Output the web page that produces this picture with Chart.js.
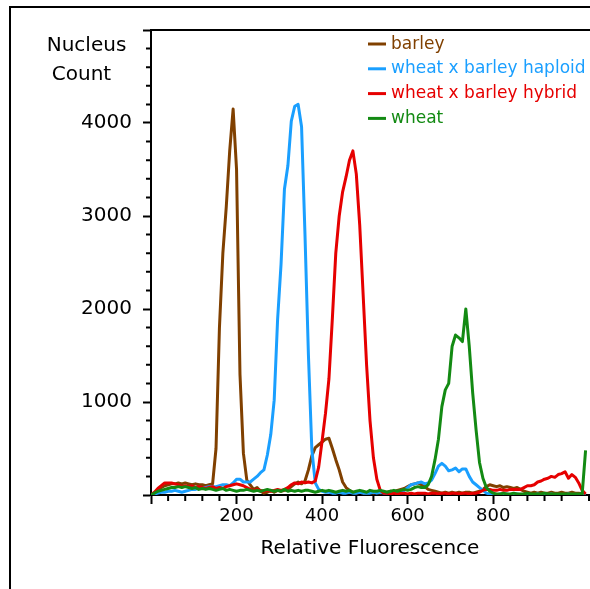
<!DOCTYPE html>
<html>
<head>
<meta charset="utf-8">
<script src="https://cdn.jsdelivr.net/npm/chart.js@4.4.0/dist/chart.umd.min.js"></script>
<style>
  html, body { margin: 0; padding: 0; background: #fff; overflow: hidden; }
  #frame { position: absolute; left: 9px; top: 6px; width: 700px; height: 700px;
           border-left: 2px solid #000; border-top: 2px solid #000; }
  #wrap { position: absolute; left: 0; top: 0; }
</style>
</head>
<body>
<div id="frame"></div>
<div id="wrap"><canvas id="histChart" width="591" height="589"></canvas></div>
<script>
// histogram bins, 8 channels wide
const channels = [];
for (let c = 0; c < 1024; c += 8) channels.push(c);

const seriesNames = ['barley', 'wheat x barley haploid', 'wheat x barley hybrid', 'wheat'];
const seriesColors = ['#804000', '#1a9fff', '#e60000', '#138a13'];

const xTickLabels = [200, 400, 600, 800];
const yTickLabels = [1000, 2000, 3000, 4000];

const barley = [
  0, 20, 50, 80, 100, 110, 120, 120, 130, 120, 130, 120, 110, 120, 110, 110,
  100, 110, 120, 500, 1800, 2600, 3100, 3700, 4150, 3500, 1300, 450, 160, 110, 60, 80,
  40, 20, 30, 50, 30, 50, 40, 50, 60, 90, 120, 140, 120, 150, 270, 420,
  510, 540, 570, 600, 610, 500, 380, 270, 140, 80, 50, 30, 20, 30, 20, 20,
  30, 20, 30, 20, 30, 30, 40, 30, 50, 60, 70, 90, 110, 120, 130, 110,
  90, 60, 50, 40, 30, 20, 30, 20, 30, 20, 30, 20, 30, 30, 20, 30,
  40, 60, 90, 110, 100, 90, 100, 80, 90, 80, 70, 80, 60, 40, 30, 20,
  30, 20, 30, 20, 20, 30, 20, 20, 30, 20, 20, 30, 20, 20, 10, 0
];
const haploid = [
  0, 10, 20, 30, 30, 40, 40, 50, 40, 30, 40, 50, 60, 60, 70, 80,
  80, 90, 90, 90, 100, 110, 110, 100, 130, 170, 170, 140, 140, 140, 170, 200,
  240, 270, 430, 650, 1020, 1890, 2480, 3290, 3540, 4020, 4180, 4200, 3960, 2800, 1510, 490,
  130, 60, 40, 30, 30, 20, 20, 30, 20, 20, 30, 20, 20, 30, 20, 20,
  20, 30, 20, 30, 20, 20, 30, 30, 20, 30, 50, 80, 110, 120, 130, 140,
  120, 130, 160, 230, 310, 340, 310, 260, 270, 290, 250, 280, 280, 200, 140, 110,
  80, 50, 20, 10, 10, 0, 10, 0, 10, 0, 0, 10, 0, 0, 10, 0,
  0, 10, 0, 0, 0, 10, 0, 0, 0, 0, 10, 0, 0, 0, 0, 0
];
const hybrid = [
  0, 30, 70, 100, 130, 130, 130, 120, 110, 90, 100, 90, 100, 80, 90, 80,
  70, 80, 90, 70, 80, 70, 90, 100, 110, 120, 110, 100, 80, 60, 50, 60,
  50, 40, 50, 40, 50, 60, 50, 60, 80, 110, 130, 120, 140, 130, 140, 130,
  150, 300, 580, 880, 1250, 1900, 2600, 3000, 3260, 3420, 3600, 3700, 3450, 2900, 2150, 1400,
  800, 400, 170, 50, 20, 20, 10, 20, 10, 20, 20, 10, 20, 10, 20, 20,
  20, 10, 20, 20, 10, 20, 20, 10, 20, 20, 10, 20, 20, 10, 20, 20,
  30, 50, 60, 60, 50, 50, 60, 50, 50, 60, 60, 60, 60, 80, 100, 100,
  110, 140, 150, 170, 180, 200, 190, 220, 230, 250, 180, 220, 190, 130, 50, 10
];
const wheat = [
  0, 20, 40, 50, 60, 70, 80, 80, 90, 80, 90, 80, 70, 80, 60, 70,
  60, 70, 60, 50, 60, 70, 50, 60, 50, 40, 50, 50, 60, 50, 40, 50,
  40, 50, 60, 50, 40, 50, 40, 60, 40, 50, 40, 50, 40, 50, 50, 40,
  30, 40, 50, 40, 50, 40, 30, 40, 50, 40, 50, 30, 40, 50, 40, 30,
  50, 40, 40, 50, 40, 30, 40, 50, 40, 50, 60, 50, 60, 80, 90, 80,
  80, 110, 200, 380, 600, 950, 1130, 1200, 1600, 1720, 1690, 1650, 2000, 1600, 1100, 700,
  350, 180, 80, 40, 20, 10, 10, 20, 10, 10, 20, 10, 10, 10, 20, 10,
  10, 10, 10, 20, 10, 10, 10, 10, 10, 10, 10, 10, 10, 10, 10, 480
];

const allSeries = [barley, haploid, hybrid, wheat];

function toPoints(values) {
    return channels.map((c, i) => ({ x: c, y: values[i] }));
}

// minor ticks, plot box top edge, y title and legend
const extrasPlugin = {
    id: 'extras',
    afterDraw(chart) {
        const ctx = chart.ctx;
        const area = chart.chartArea;
        const xs = chart.scales.x;
        const ys = chart.scales.y;
        ctx.save();
        ctx.strokeStyle = '#000';
        ctx.lineWidth = 2;
        ctx.beginPath();
        ctx.moveTo(area.left - 1, area.top);
        ctx.lineTo(area.right + 2, area.top);
        ctx.stroke();

        ctx.beginPath();
        ys.ticks.forEach(t => {
            if (t.value % 1000 !== 0) {
                const y = ys.getPixelForValue(t.value);
                ctx.moveTo(area.left - 5, y);
                ctx.lineTo(area.left, y);
            }
        });
        xs.ticks.forEach(t => {
            if (t.value % 200 !== 0) {
                const x = xs.getPixelForValue(t.value);
                ctx.moveTo(x, area.bottom);
                ctx.lineTo(x, area.bottom + 6);
            }
        });
        ctx.stroke();

        ctx.fillStyle = '#000';
        ctx.font = '20px "DejaVu Sans"';
        ctx.textAlign = 'center';
        ctx.textBaseline = 'alphabetic';
        ctx.fillText('Nucleus', 86.5, 51);
        ctx.fillText('Count', 81.5, 80);

        ctx.font = '17px "DejaVu Sans"';
        ctx.textAlign = 'left';
        seriesNames.forEach((name, i) => {
            const y = 48.5 + i * 24.8;
            ctx.strokeStyle = seriesColors[i];
            ctx.lineWidth = 3;
            ctx.beginPath();
            ctx.moveTo(368, y - 4.5);
            ctx.lineTo(386, y - 4.5);
            ctx.stroke();
            ctx.fillStyle = seriesColors[i];
            ctx.fillText(name, 391, y);
        });
        ctx.restore();
    }
};

const ctx = document.getElementById('histChart').getContext('2d');
new Chart(ctx, {
    type: 'line',
    data: {
        datasets: allSeries.map((vals, i) => ({
            label: seriesNames[i],
            data: toPoints(vals),
            borderColor: seriesColors[i],
            borderWidth: 3,
            borderJoinStyle: 'round',
            pointRadius: 0,
            tension: 0,
            fill: false,
            order: 4 - i
        }))
    },
    options: {
        responsive: false,
        animation: false,
        devicePixelRatio: 1,
        layout: { padding: { top: 30, left: 0, right: 0, bottom: 0 } },
        plugins: {
            legend: { display: false },
            tooltip: { enabled: false }
        },
        scales: {
            x: {
                type: 'linear',
                min: 0,
                max: 1024,
                afterFit: scale => { scale.height = 94; },
                border: { display: true, color: '#000', width: 2 },
                grid: {
                    drawOnChartArea: false,
                    drawTicks: true,
                    tickLength: 9,
                    tickWidth: 2,
                    tickColor: c => (c.tick && c.tick.value % 200 === 0) ? '#000' : 'rgba(0,0,0,0)'
                },
                ticks: {
                    stepSize: 40,
                    autoSkip: false,
                    maxRotation: 0,
                    padding: 2,
                    color: '#000',
                    font: { family: 'DejaVu Sans', size: 18 },
                    callback: v => xTickLabels.includes(v) ? String(v) : ''
                },
                title: {
                    display: true,
                    text: 'Relative Fluorescence',
                    color: '#000',
                    font: { family: 'DejaVu Sans', size: 20 },
                    padding: { top: 0, bottom: 28 }
                }
            },
            y: {
                min: 0,
                max: 5000,
                afterFit: scale => { scale.width = 151; },
                border: { display: true, color: '#000', width: 2 },
                grid: {
                    drawOnChartArea: false,
                    drawTicks: true,
                    tickLength: 8,
                    tickWidth: 2,
                    tickColor: c => (c.tick && c.tick.value % 1000 === 0) ? '#000' : 'rgba(0,0,0,0)'
                },
                ticks: {
                    stepSize: 200,
                    autoSkip: false,
                    padding: 11,
                    color: '#000',
                    font: { family: 'DejaVu Sans', size: 20 },
                    callback: v => yTickLabels.includes(v) ? String(v) : ''
                }
            }
        }
    },
    plugins: [extrasPlugin]
});
</script>
</body>
</html>
